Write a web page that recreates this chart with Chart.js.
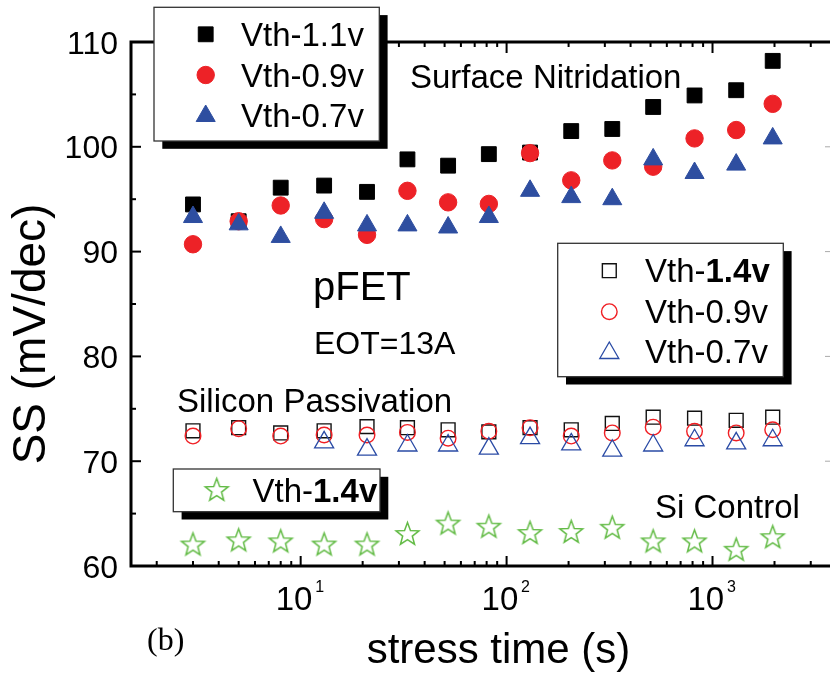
<!DOCTYPE html>
<html>
<head>
<meta charset="utf-8">
<script src="https://cdn.jsdelivr.net/npm/chart.js@4.4.1/dist/chart.umd.min.js"></script>
<style>
  html, body { margin: 0; padding: 0; background: #fff; overflow: hidden; width: 830px; height: 675px; }
  #wrap { position: relative; width: 850px; height: 675px; }
  canvas { display: block; }
</style>
</head>
<body>
<div id="wrap"><canvas id="c" width="850" height="675"></canvas></div>
<script>
// Stress time (s) at which SS was measured
const stressTime = [3, 5, 8, 13, 21, 33, 52, 82, 130, 206, 326, 515, 818, 1303, 1960];

// Surface nitridation, SS (mV/dec)
const nitrVth11 = [94.5, 92.9, 96.1, 96.3, 95.7, 98.8, 98.2, 99.3, 99.45, 101.5, 101.7, 103.8, 104.9, 105.4, 108.2];
const nitrVth09 = [90.7, 92.9, 94.4, 93.1, 91.6, 95.8, 94.7, 94.55, 99.4, 96.8, 98.7, 98.1, 100.8, 101.6, 104.1];
const nitrVth07 = [93.3, 92.6, 91.4, 93.7, 92.5, 92.5, 92.3, 93.3, 95.8, 95.2, 95.0, 98.8, 97.5, 98.3, 100.8];

// Silicon passivation, SS (mV/dec)
const passVth14 = [72.9, 73.2, 72.7, 72.9, 73.3, 73.2, 73.0, 72.8, 73.2, 73.0, 73.6, 74.2, 74.1, 73.9, 74.2];
const passVth09 = [72.4, 73.1, 72.4, 72.5, 72.5, 72.75, 72.2, 72.85, 73.2, 72.4, 72.7, 73.25, 72.85, 72.7, 73.0];
const passVth07 = [null, null, null, 71.8, 71.1, 71.5, 71.5, 71.2, 72.2, 71.6, 71.0, 71.5, 72.0, 71.7, 72.0];

// Si control, SS (mV/dec)
const ctrlVth14 = [62.0, 62.4, 62.3, 62.0, 62.0, 63.0, 64.0, 63.7, 63.1, 63.2, 63.6, 62.3, 62.3, 61.5, 62.7];

// Axis ticks
const yTickValues = [60, 70, 80, 90, 100, 110];
const yMinorValues = [65, 75, 85, 95, 105];
const xDecadeExponents = [1, 2, 3];

const SANS = '"Liberation Sans", Arial, Helvetica, sans-serif';
const SERIF = '"Liberation Serif", "Times New Roman", serif';

const RED = '#ED2227';
const BLUE = '#2E4EA0';
const GREEN = '#62BB45';

function makeStar(R, color, lw) {
  const s = Math.ceil(2 * R + 2 * lw + 4);
  const c = document.createElement('canvas');
  c.width = s; c.height = s;
  const g = c.getContext('2d');
  const cx = s / 2, cy = s / 2, r = R * 0.42;
  g.beginPath();
  for (let i = 0; i < 10; i++) {
    const a = -Math.PI / 2 + i * Math.PI / 5;
    const rr = i % 2 ? r : R;
    g.lineTo(cx + rr * Math.cos(a), cy + rr * Math.sin(a));
  }
  g.closePath();
  g.strokeStyle = color;
  g.lineWidth = lw;
  g.lineJoin = 'miter';
  g.stroke();
  return c;
}
const starImg = makeStar(12, GREEN, 1.5);

const pts = ys => stressTime.map((x, i) => ({ x: x, y: ys[i] }));

const datasets = [
  { label: 'Vth-1.1v', parts: [['Vth-1.1v', false]], data: pts(nitrVth11), pointStyle: 'rect', pointRadius: 10.5,
    backgroundColor: '#000', borderColor: '#000', borderWidth: 1, order: 3 },
  { label: 'Vth-0.9v', parts: [['Vth-0.9v', false]], data: pts(nitrVth09), pointStyle: 'circle', pointRadius: 8.7,
    backgroundColor: RED, borderColor: RED, borderWidth: 1, order: 2 },
  { label: 'Vth-0.7v', parts: [['Vth-0.7v', false]], data: pts(nitrVth07), pointStyle: 'triangle', pointRadius: 11,
    backgroundColor: BLUE, borderColor: BLUE, borderWidth: 1, order: 1 },
  { label: 'Vth-1.4v', parts: [['Vth-', false], ['1.4v', true]], data: pts(passVth14), pointStyle: 'rect', pointRadius: 9.8,
    backgroundColor: 'rgba(255,255,255,0)', borderColor: '#111', borderWidth: 1.4, order: 6 },
  { label: 'Vth-0.9v', parts: [['Vth-0.9v', false]], data: pts(passVth09), pointStyle: 'circle', pointRadius: 7.8,
    backgroundColor: 'rgba(255,255,255,0)', borderColor: '#F01E23', borderWidth: 1.4, order: 5 },
  { label: 'Vth-0.7v', parts: [['Vth-0.7v', false]], data: pts(passVth07), pointStyle: 'triangle', pointRadius: 11,
    backgroundColor: 'rgba(255,255,255,0)', borderColor: '#2A4BA5', borderWidth: 1.3, order: 4 },
  { label: 'Vth-1.4v', parts: [['Vth-', false], ['1.4v', true]], data: pts(ctrlVth14), pointStyle: starImg, pointRadius: 12,
    backgroundColor: 'rgba(255,255,255,0)', borderColor: GREEN, borderWidth: 1.5, order: 7 }
];
datasets.forEach(d => { d.showLine = false; d.pointHoverRadius = d.pointRadius; });

// Draws a marker in the same style the dataset uses
function drawMarker(ctx, ds, x, y) {
  ctx.save();
  if (typeof ds.pointStyle !== 'string') {
    const im = ds.pointStyle;
    ctx.drawImage(im, x - im.width / 2, y - im.height / 2);
    ctx.restore();
    return;
  }
  const r = ds.pointRadius;
  ctx.fillStyle = ds.backgroundColor;
  ctx.strokeStyle = ds.borderColor;
  ctx.lineWidth = ds.borderWidth;
  ctx.beginPath();
  if (ds.pointStyle === 'rect') {
    const s = Math.SQRT1_2 * r;
    ctx.rect(x - s, y - s, 2 * s, 2 * s);
  } else if (ds.pointStyle === 'circle') {
    ctx.arc(x, y, r, 0, Math.PI * 2);
  } else if (ds.pointStyle === 'triangle') {
    let a = 0;
    ctx.moveTo(x + Math.sin(a) * r, y - Math.cos(a) * r);
    a += Math.PI * 2 / 3;
    ctx.lineTo(x + Math.sin(a) * r, y - Math.cos(a) * r);
    a += Math.PI * 2 / 3;
    ctx.lineTo(x + Math.sin(a) * r, y - Math.cos(a) * r);
    ctx.closePath();
  }
  ctx.fill();
  ctx.stroke();
  ctx.restore();
}

function drawLabelParts(ctx, parts, x, y, size) {
  let cx = x;
  parts.forEach(([t, bold]) => {
    ctx.font = (bold ? 'bold ' : '') + size + 'px ' + SANS;
    ctx.fillText(t, cx, y);
    cx += ctx.measureText(t).width;
  });
}

function drawLegend(ctx, box, entries) {
  const [x0, y0, x1, y1] = box;
  ctx.save();
  ctx.fillStyle = '#000';
  ctx.fillRect(x0 + 8.3, y0 + 7.8, x1 - x0, y1 - y0);
  ctx.fillStyle = '#fff';
  ctx.fillRect(x0, y0, x1 - x0, y1 - y0);
  ctx.strokeStyle = '#333';
  ctx.lineWidth = 1.3;
  ctx.strokeRect(x0, y0, x1 - x0, y1 - y0);
  ctx.fillStyle = '#000';
  ctx.textAlign = 'left';
  ctx.textBaseline = 'alphabetic';
  entries.forEach(e => {
    drawMarker(ctx, e.ds, e.mx, e.my);
    ctx.fillStyle = '#000';
    drawLabelParts(ctx, e.ds.parts, e.tx, e.ty, 33);
  });
  ctx.restore();
}

const framePlugin = {
  id: 'frame',
  beforeDraw(chart) {
    const ctx = chart.ctx;
    ctx.save();
    ctx.fillStyle = '#fff';
    ctx.fillRect(0, 0, chart.width, chart.height);
    ctx.restore();
  },
  beforeDatasetsDraw(chart) {
    const ctx = chart.ctx;
    const { left, right, top, bottom } = chart.chartArea;
    const xs = chart.scales.x, ys = chart.scales.y;
    ctx.save();
    ctx.strokeStyle = '#000';
    ctx.lineWidth = 2;
    // y ticks (left and right, pointing inward)
    yTickValues.concat(yMinorValues).forEach(v => {
      const py = ys.getPixelForValue(v);
      const major = yTickValues.includes(v);
      const len = major ? 10 : 5;
      ctx.strokeStyle = '#000';
      ctx.lineWidth = 2;
      ctx.beginPath();
      ctx.moveTo(left, py); ctx.lineTo(left + len, py);
      ctx.stroke();
      ctx.strokeStyle = '#aaa';
      ctx.lineWidth = 1;
      ctx.beginPath();
      ctx.moveTo(right, py); ctx.lineTo(right - len - 1.5, py);
      ctx.stroke();
    });
    ctx.strokeStyle = '#000';
    ctx.lineWidth = 2;
    // x ticks (bottom and top, pointing inward)
    const xTicks = [];
    for (let d = 0; d <= 3; d++) {
      for (let m = 1; m <= 9; m++) {
        const v = m * Math.pow(10, d);
        if (v >= xs.min && v <= xs.max) xTicks.push({ v: v, major: m === 1 });
      }
    }
    xTicks.forEach(t => {
      const px = xs.getPixelForValue(t.v);
      const len = t.major ? 10 : 5;
      ctx.beginPath();
      ctx.moveTo(px, bottom); ctx.lineTo(px, bottom - len);
      ctx.moveTo(px, top); ctx.lineTo(px, top + (t.major ? 11 : 5));
      ctx.stroke();
    });
    // frame
    ctx.lineWidth = 3;
    ctx.strokeRect(left, top, right - left, bottom - top);
    ctx.restore();
  },
  afterDraw(chart) {
    const ctx = chart.ctx;
    const xs = chart.scales.x, ys = chart.scales.y;
    const ds = chart.data.datasets;
    ctx.save();
    ctx.fillStyle = '#000';
    ctx.textBaseline = 'alphabetic';

    // y tick labels
    ctx.font = '32px ' + SANS;
    ctx.textAlign = 'right';
    yTickValues.forEach(v => {
      ctx.fillText(String(v), 118, ys.getPixelForValue(v) + 11.5);
    });

    // x tick labels: 10 with exponent
    ctx.textAlign = 'left';
    xDecadeExponents.forEach(k => {
      const px = xs.getPixelForValue(Math.pow(10, k));
      ctx.font = '33px ' + SANS;
      ctx.fillText('10', px - 25, 610);
      ctx.font = '16px ' + SANS;
      ctx.fillText(String(k), px + 14.5, 592);
    });

    // axis titles
    ctx.font = '42px ' + SANS;
    ctx.textAlign = 'center';
    ctx.fillText('stress time (s)', 498.5, 663);
    ctx.save();
    ctx.translate(45, 334);
    ctx.rotate(-Math.PI / 2);
    ctx.font = '46px ' + SANS;
    ctx.fillText('SS (mV/dec)', 0, 0);
    ctx.restore();

    // annotations
    ctx.textAlign = 'left';
    ctx.font = '33px ' + SANS;
    ctx.fillText('Surface Nitridation', 410, 88);
    ctx.fillText('Silicon Passivation', 177, 412);
    ctx.fillText('Si Control', 655, 518);
    ctx.font = '40px ' + SANS;
    ctx.fillText('pFET', 313, 300);
    ctx.font = '32px ' + SANS;
    ctx.fillText('EOT=13A', 314, 354);
    ctx.font = '32px ' + SERIF;
    ctx.fillText('(b)', 147, 650);

    // legends
    drawLegend(ctx, [154, 7.3, 379.3, 141], [
      { ds: ds[0], mx: 205.7, my: 34.3, tx: 241, ty: 45.7 },
      { ds: ds[1], mx: 205.7, my: 75, tx: 241, ty: 86.7 },
      { ds: ds[2], mx: 205.7, my: 116, tx: 241, ty: 126.7 }
    ]);
    drawLegend(ctx, [557.7, 243.3, 783.3, 376.7], [
      { ds: ds[3], mx: 609.3, my: 270.7, tx: 645, ty: 281.7 },
      { ds: ds[4], mx: 609.3, my: 311.7, tx: 645, ty: 322.7 },
      { ds: ds[5], mx: 609.3, my: 353, tx: 645, ty: 363.3 }
    ]);
    drawLegend(ctx, [173.3, 469, 380, 511.7], [
      { ds: ds[6], mx: 216.7, my: 490.5, tx: 252.5, ty: 501.7 }
    ]);
    ctx.restore();
  }
};

new Chart(document.getElementById('c'), {
  type: 'scatter',
  data: { datasets: datasets },
  options: {
    responsive: false,
    animation: false,
    devicePixelRatio: 1,
    events: [],
    layout: { padding: { left: 131, top: 42, right: 9, bottom: 109 } },
    scales: {
      x: { type: 'logarithmic', min: 1.5, max: 4000, display: false },
      y: { type: 'linear', min: 60, max: 110, display: false }
    },
    plugins: { legend: { display: false }, tooltip: { enabled: false } },
    clip: false
  },
  plugins: [framePlugin]
});
</script>
</body>
</html>
